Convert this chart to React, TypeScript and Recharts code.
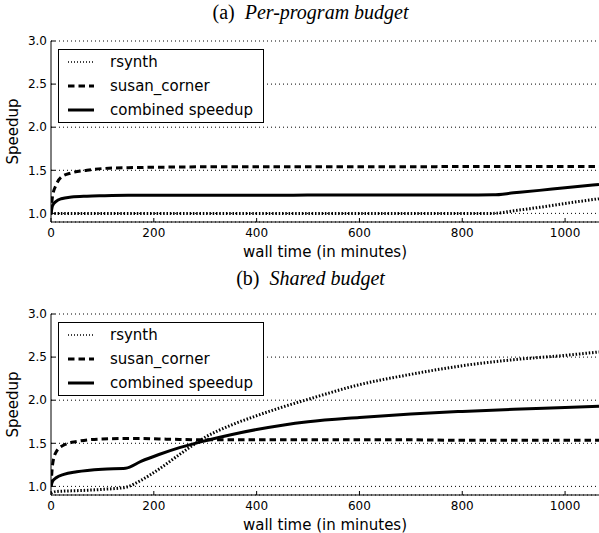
import React from "react";
import { LineChart, Line, XAxis, YAxis, CartesianGrid, Legend } from "recharts";

// (a) per-program budget
const timeA = [0, 3, 10, 20, 40, 70, 100, 150, 200, 300, 400, 500, 600, 700, 800, 860, 900, 950, 1000, 1066];
const rsynthA = [1.0, 1.0, 1.0, 1.0, 1.0, 1.0, 1.0, 1.0, 1.0, 1.0, 1.0, 1.0, 1.0, 1.0, 1.0, 1.0, 1.03, 1.07, 1.115, 1.17];
const susanA = [1.0, 1.2, 1.33, 1.42, 1.47, 1.5, 1.52, 1.53, 1.535, 1.54, 1.54, 1.54, 1.54, 1.54, 1.545, 1.545, 1.545, 1.545, 1.545, 1.545];
const combinedA = [1.0, 1.09, 1.14, 1.17, 1.19, 1.2, 1.205, 1.21, 1.21, 1.21, 1.21, 1.212, 1.212, 1.213, 1.214, 1.215, 1.238, 1.267, 1.297, 1.335];

// (b) shared budget
const timeB = [0, 3, 10, 25, 50, 100, 145, 175, 210, 250, 300, 350, 400, 450, 500, 600, 700, 800, 900, 1000, 1066];
const rsynthB = [0.92, 0.93, 0.94, 0.945, 0.95, 0.965, 0.99, 1.07, 1.2, 1.37, 1.57, 1.71, 1.82, 1.92, 2.01, 2.18, 2.3, 2.4, 2.47, 2.52, 2.56];
const susanB = [1.0, 1.25, 1.4, 1.48, 1.52, 1.55, 1.555, 1.555, 1.55, 1.545, 1.54, 1.54, 1.54, 1.54, 1.54, 1.54, 1.54, 1.535, 1.535, 1.535, 1.535];
const combinedB = [1.0, 1.06, 1.1, 1.14, 1.17, 1.2, 1.21, 1.29, 1.37, 1.45, 1.53, 1.6, 1.66, 1.71, 1.75, 1.8, 1.84, 1.87, 1.895, 1.915, 1.93];

const xTicks = [0, 200, 400, 600, 800, 1000];
const yTicks = [1.0, 1.5, 2.0, 2.5, 3.0];
const seriesNames = ["rsynth", "susan_corner", "combined speedup"];

const styles = [
  { key: "rsynth", width: 3, dash: "1.5 1.8" },
  { key: "susan", width: 3, dash: "6.5 4" },
  { key: "combined", width: 3, dash: undefined },
];

const SANS = "'DejaVu Sans', sans-serif";

function rows(time: number[], a: number[], b: number[], c: number[]) {
  return time.map((t, i) => ({ t, rsynth: a[i], susan: b[i], combined: c[i] }));
}

function LegendBox() {
  return (
    <div style={{ border: "1px solid #000", background: "#fff", width: 204, fontFamily: SANS, fontSize: 15 }}>
      {styles.map((s, i) => (
        <div key={s.key} style={{ height: 24, display: "flex", alignItems: "center" }}>
          <svg width={51} height={24}>
            <line x1={9} x2={35} y1={12} y2={12} stroke="#000" strokeWidth={i === 0 ? 1.5 : s.width}
              strokeDasharray={i === 0 ? "1 2" : s.dash} />
          </svg>
          <span style={{ color: "#000" }}>{seriesNames[i]}</span>
        </div>
      ))}
    </div>
  );
}

function YLabel(props: any) {
  const vb = props.viewBox;
  const cx = 13;
  const cy = vb.y + vb.height / 2;
  return (
    <text x={cx} y={cy} transform={`rotate(-90 ${cx} ${cy})`} textAnchor="middle" dominantBaseline="central"
      fontFamily={SANS} fontSize={15} fill="#000">
      Speedup
    </text>
  );
}

function Panel({ data }: { data: any[] }) {
  return (
    <LineChart width={599} height={262} data={data} margin={{ top: 41, right: 0, bottom: 0, left: 0 }}>
      <CartesianGrid horizontal vertical={false} stroke="#000" strokeDasharray="1 3" />
      <XAxis dataKey="t" type="number" domain={[0, 1066]} ticks={xTicks} allowDataOverflow
        height={40} tickSize={-4} tickMargin={10} stroke="#000"
        tick={{ fill: "#000", fontSize: 12, fontFamily: SANS }}
        label={{ value: "wall time (in minutes)", position: "insideBottom", offset: 5, fill: "#000", fontSize: 15, fontFamily: SANS }} />
      <XAxis xAxisId="top" orientation="top" dataKey="t" type="number" domain={[0, 1066]} ticks={xTicks}
        height={0} tickSize={-4} tickFormatter={() => ""} stroke="#000" />
      <YAxis type="number" domain={[0.9, 3.0]} ticks={yTicks} allowDataOverflow width={51}
        tickSize={-4} tickMargin={8} stroke="#000" tickFormatter={(v: number) => v.toFixed(1)}
        tick={{ fill: "#000", fontSize: 12, fontFamily: SANS }}
        label={<YLabel />} />
      {styles.map((s) => (
        <Line key={s.key} type="monotone" dataKey={s.key} stroke="#000" strokeWidth={s.width}
          strokeDasharray={s.dash} dot={false} activeDot={false} isAnimationActive={false} />
      ))}
      <Legend layout="vertical" align="center" verticalAlign="middle" content={() => <LegendBox />}
        wrapperStyle={{ left: 58, top: 49, width: 206, height: 74 }} />
    </LineChart>
  );
}

function Title({ tag, text, top }: { tag: string; text: string; top: number }) {
  return (
    <div style={{ position: "absolute", left: 0, width: 621, top, textAlign: "center",
      fontFamily: "'Liberation Serif', serif", fontSize: 20, lineHeight: "20px", color: "#000" }}>
      {tag}<i style={{ marginLeft: 10 }}>{text}</i>
    </div>
  );
}

export default function App() {
  const dataA = rows(timeA, rsynthA, susanA, combinedA);
  const dataB = rows(timeB, rsynthB, susanB, combinedB);
  return (
    <div style={{ position: "absolute", left: 0, top: 0, width: 599, height: 533, background: "#fff", overflow: "hidden" }}>
      <Title tag="(a)" text="Per-program budget" top={2} />
      <div style={{ position: "absolute", left: 0, top: 0 }}>
        <Panel data={dataA} />
      </div>
      <Title tag="(b)" text="Shared budget" top={268} />
      <div style={{ position: "absolute", left: 0, top: 273 }}>
        <Panel data={dataB} />
      </div>
    </div>
  );
}
